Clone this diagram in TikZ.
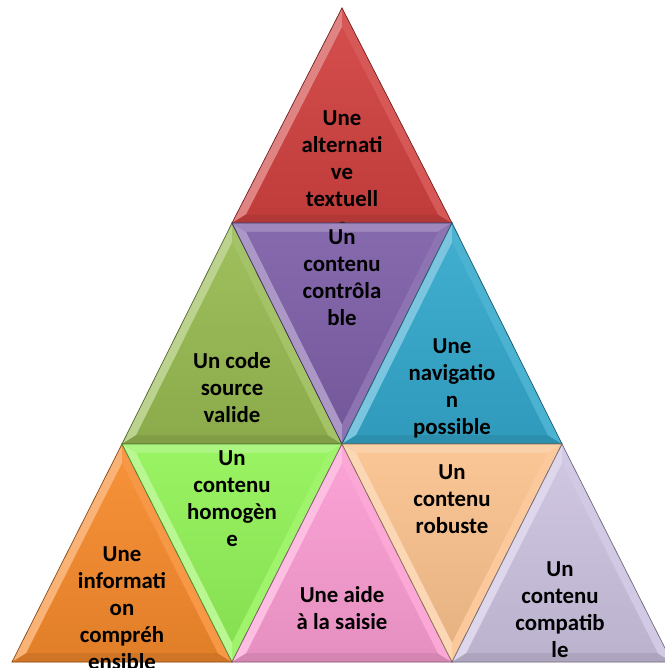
\documentclass[tikz,border=0pt]{standalone}
\usepackage{fontspec}
\setsansfont{Carlito}
\usepackage{tikz}
\usetikzlibrary{calc,positioning}

\definecolor{pyrred}{RGB}{208,66,64}
\definecolor{pyrgreen}{RGB}{152,186,82}
\definecolor{pyrpurple}{RGB}{126,96,168}
\definecolor{pyrblue}{RGB}{52,168,204}
\definecolor{pyrorange}{RGB}{245,138,44}
\definecolor{pyrlime}{RGB}{146,242,88}
\definecolor{pyrpink}{RGB}{250,156,210}
\definecolor{pyrpeach}{RGB}{250,194,142}
\definecolor{pyrlilac}{RGB}{204,194,224}

% one bevelled triangle: name, apex, corner, corner, colour, shade of the flat edge
\newcommand{\pyrtri}[6]{%
  \coordinate (#1a) at #2;
  \coordinate (#1b) at #3;
  \coordinate (#1c) at #4;
  \coordinate (#1i) at (barycentric cs:#1a=0.9,#1b=1,#1c=1);
  \coordinate (#1ai) at ($(#1i)!0.87!(#1a)$);
  \coordinate (#1bi) at ($(#1i)!0.87!(#1b)$);
  \coordinate (#1ci) at ($(#1i)!0.87!(#1c)$);
  \fill[#5] (#1a) -- (#1b) -- (#1c) -- cycle;
  \fill[#5!65!white] (#1a) -- (#1b) -- (#1bi) -- (#1ai) -- cycle;
  \fill[#5!#6] (#1b) -- (#1c) -- (#1ci) -- (#1bi) -- cycle;
  \fill[#5!88!white] (#1c) -- (#1a) -- (#1ai) -- (#1ci) -- cycle;
  \shade[top color=#5!94!white,bottom color=#5!92!black] (#1ai) -- (#1bi) -- (#1ci) -- cycle;
  \draw[#5!55!black,line width=0.4pt] (#1a) -- (#1b) -- (#1c) -- cycle;
}

\begin{document}
\begin{tikzpicture}[x=0.02cm,y=-0.02cm]
    \tikzstyle{lbl}=[align=center,text=black,inner sep=0pt,font=\sffamily\bfseries\fontsize{13}{15.4}\selectfont]
    \useasboundingbox (0,0) rectangle (664,668);

    % top
    \pyrtri{red}{(342,8)}{(232,223)}{(452,223)}{pyrred}{85!black}
    \node[lbl] (t_red) at (342,172) {Une\\alternati\\ve\\textuell\\e};

    % second row
    \pyrtri{grn}{(232,223)}{(122,444)}{(342,444)}{pyrgreen}{85!black}
    \pyrtri{pur}{(342,444)}{(232,223)}{(452,223)}{pyrpurple}{75!white}
    \pyrtri{blu}{(452,223)}{(342,444)}{(562,444)}{pyrblue}{85!black}
    \node[lbl] (t_grn) at (232,388) {Un code\\source\\valide};
    \node[lbl] (t_pur) at (342,278) {Un\\contenu\\contrôla\\ble};
    \node[lbl] (t_blu) at (452,388) {Une\\navigatio\\n\\possible};

    % third row
    \pyrtri{ora}{(122,444)}{(12,662)}{(232,662)}{pyrorange}{85!black}
    \pyrtri{lim}{(232,662)}{(122,444)}{(342,444)}{pyrlime}{75!white}
    \pyrtri{pnk}{(342,444)}{(232,662)}{(452,662)}{pyrpink}{85!black}
    \pyrtri{pch}{(452,662)}{(342,444)}{(562,444)}{pyrpeach}{75!white}
    \pyrtri{lil}{(562,444)}{(452,662)}{(672,662)}{pyrlilac}{85!black}
    \node[lbl] (t_ora) at (122,608) {Une\\informati\\on\\compréh\\ensible};
    \node[lbl] (t_lim) at (232,499) {Un\\contenu\\homogèn\\e};
    \node[lbl] (t_pnk) at (342,608) {Une aide\\à la saisie};
    \node[lbl] (t_pch) at (452,499) {Un\\contenu\\robuste};
    \node[lbl] (t_lil) at (560,610) {Un\\contenu\\compatib\\le};
\end{tikzpicture}
\end{document}
